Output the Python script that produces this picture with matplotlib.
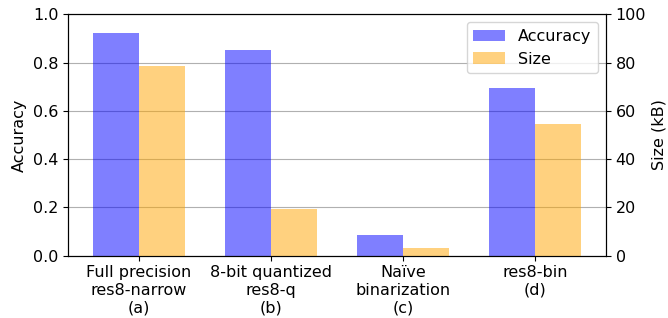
import numpy as np
import matplotlib
matplotlib.use("Agg")
import matplotlib.pyplot as plt

labels = ["Full precision\nres8-narrow\n(a)", "8-bit quantized\nres8-q\n(b)",
          "Naïve\nbinarization\n(c)", "res8-bin\n(d)"]
accuracy = [0.922, 0.852, 0.086, 0.695]
size_kb = [78.6, 19.3, 3.2, 54.6]

plt.rcParams["font.size"] = 11.5

x = np.arange(len(labels))
w = 0.35

fig, ax = plt.subplots(figsize=(6.68, 3.18), dpi=100)
ax2 = ax.twinx()

b1 = ax.bar(x - w / 2, accuracy, w, color="blue", alpha=0.5, label="Accuracy")
b2 = ax2.bar(x + w / 2, size_kb, w, color="orange", alpha=0.5, label="Size")

ax.set_ylim(0, 1.0)
ax2.set_ylim(0, 100)
ax.set_ylabel("Accuracy")
ax2.set_ylabel("Size (kB)")
ax.set_xticks(x)
ax.set_xticklabels(labels)
ax.yaxis.grid(True)
ax.set_axisbelow(True)

ax2.legend([b1, b2], ["Accuracy", "Size"], loc="upper right")

fig.subplots_adjust(left=0.102, right=0.907, top=0.955, bottom=0.196)
fig.savefig("out.png", dpi=100)
